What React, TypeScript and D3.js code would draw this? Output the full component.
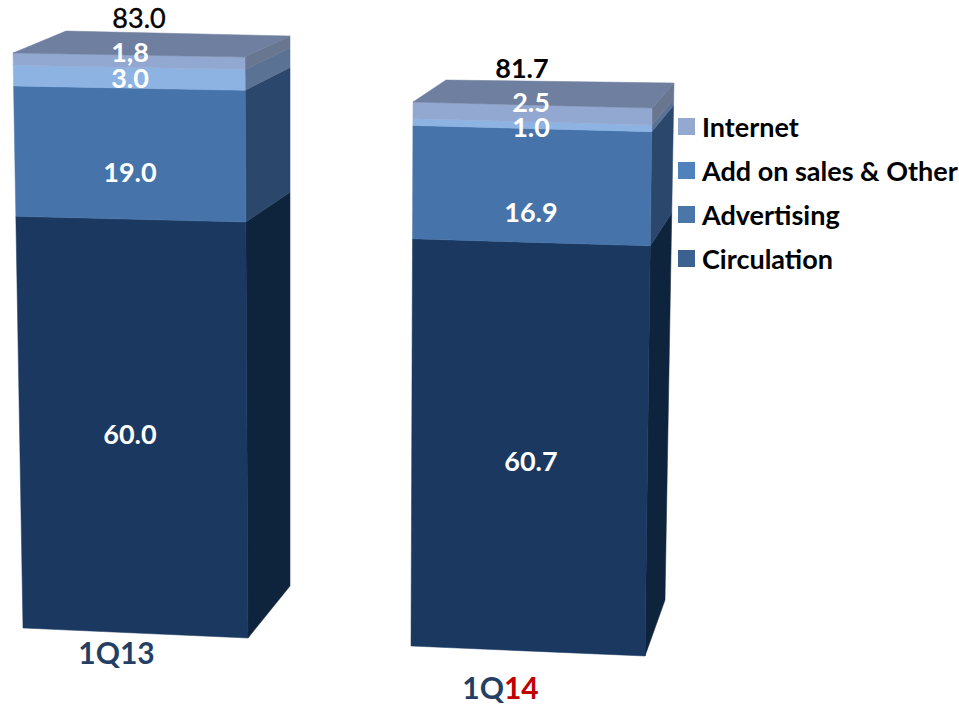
import React from "react";
import * as d3 from "d3";

// Reported revenue by quarter, stacked from the bottom up.
const quarters = ["1Q13", "1Q14"];
const circulation = [60.0, 60.7];
const advertising = [19.0, 16.9];
const addOnSales = [3.0, 1.0];
const internet = [1.8, 2.5];
const totalLabels = ["83.0", "81.7"];
const internetLabels = ["1,8", "2.5"];
const addOnLabels = ["3.0", "1.0"];
const advertisingLabels = ["19.0", "16.9"];
const circulationLabels = ["60.0", "60.7"];
const legendNames = ["Internet", "Add on sales & Other", "Advertising", "Circulation"];

type P = [number, number];

// Corners of each projected box: front and back edges, each as [base, top].
const boxes = [
  {
    frontLeft: [[23, 628], [13, 53]] as P[],
    frontRight: [[248, 638], [245, 57]] as P[],
    backRight: [[290, 586], [290, 36]] as P[],
    backLeft: [66, 31] as P,
  },
  {
    frontLeft: [[411, 646], [413, 102]] as P[],
    frontRight: [[645, 656], [652, 108]] as P[],
    backRight: [[665, 600], [674, 83]] as P[],
    backLeft: [446, 80] as P,
  },
];

const seriesStyle = [
  { key: "circulation", front: "#1a3860", side: "#0e243d", legend: "#3c6090" },
  { key: "advertising", front: "#4674aa", side: "#2b476b", legend: "#4a76a8" },
  { key: "addOn", front: "#8db3e3", side: "#5a7394", legend: "#4f81bd" },
  { key: "internet", front: "#93a8d1", side: "#69768f", legend: "#94a9d0" },
];

const topFace = "#6e7f9f";
const labelFont = "Lato, 'Open Sans', sans-serif";

// Vertical nudges that keep the value labels from colliding on the thin bands.
const segmentLabelNudge = [
  [8, 19, 1, -9],
  [15, 27, 2, -11],
];
const totalLabelAnchor = [
  { x: 139, y: 18 },
  { x: 522, y: 68 },
];
const segmentLabelX = [130, 531];
const categoryAnchor = [
  { x: 116.5, y: 653 },
  { x: 500.5, y: 688 },
];
const legendRows = [127, 171, 215, 259];

const rows = quarters.map((q, i) => ({
  quarter: q,
  circulation: circulation[i],
  advertising: advertising[i],
  addOn: addOnSales[i],
  internet: internet[i],
}));

const stackLayout = d3.stack<any>().keys(seriesStyle.map((s) => s.key));
const stacked = stackLayout(rows);
const segmentLabels = [circulationLabels, advertisingLabels, addOnLabels, internetLabels];

const polyPath = d3.line<P>().curve(d3.curveLinearClosed);

// Interpolates a stacked value along a projected box edge.
function edgeScale(edge: P[], total: number) {
  const sx = d3.scaleLinear().domain([0, total]).range([edge[0][0], edge[1][0]]);
  const sy = d3.scaleLinear().domain([0, total]).range([edge[0][1], edge[1][1]]);
  return (v: number): P => [sx(v), sy(v)];
}

export default function App() {
  return (
    <svg
      width={959}
      height={705}
      style={{ position: "absolute", left: 0, top: 0, background: "#fff" }}
    >
      {quarters.map((q, b) => {
        const box = boxes[b];
        const total = stacked[stacked.length - 1][b][1];
        const fl = edgeScale(box.frontLeft, total);
        const fr = edgeScale(box.frontRight, total);
        const br = edgeScale(box.backRight, total);
        const topPts: P[] = [fl(total), box.backLeft, br(total), fr(total)];
        return (
          <g key={q}>
            {stacked.map((layer, s) => {
              const [v0, v1] = layer[b];
              const style = seriesStyle[s];
              return (
                <g key={style.key}>
                  <path
                    d={polyPath([fr(v0), br(v0), br(v1), fr(v1)]) ?? ""}
                    fill={style.side}
                    stroke={style.side}
                    strokeWidth={0.5}
                  />
                  <path
                    d={polyPath([fl(v0), fr(v0), fr(v1), fl(v1)]) ?? ""}
                    fill={style.front}
                    stroke={style.front}
                    strokeWidth={0.5}
                  />
                </g>
              );
            })}
            <path d={polyPath(topPts) ?? ""} fill={topFace} stroke={topFace} strokeWidth={0.5} />
            {stacked.map((layer, s) => {
              const [v0, v1] = layer[b];
              const mid = (fl((v0 + v1) / 2)[1] + fr((v0 + v1) / 2)[1]) / 2;
              return (
                <text
                  key={seriesStyle[s].key}
                  x={segmentLabelX[b]}
                  y={mid + segmentLabelNudge[b][s]}
                  dy="0.36em"
                  textAnchor="middle"
                  fontFamily={labelFont}
                  fontWeight={700}
                  fontSize={27}
                  fill="#fff"
                >
                  {segmentLabels[s][b]}
                </text>
              );
            })}
            <text
              x={totalLabelAnchor[b].x}
              y={totalLabelAnchor[b].y}
              dy="0.36em"
              textAnchor="middle"
              fontFamily={labelFont}
              fontWeight={b === 0 ? 400 : 700}
              fontSize={27}
              fill="#000"
              stroke={b === 0 ? "#000" : "none"}
              strokeWidth={0.4}
            >
              {totalLabels[b]}
            </text>
            <text
              x={categoryAnchor[b].x}
              y={categoryAnchor[b].y}
              dy="0.36em"
              textAnchor="middle"
              fontFamily={labelFont}
              fontWeight={700}
              fontSize={30}
              fill="#243f63"
            >
              {q.slice(0, 2)}
              <tspan fill={b === 1 ? "#c00000" : "#243f63"}>{q.slice(2)}</tspan>
            </text>
          </g>
        );
      })}
      {legendNames.map((name, i) => {
        const style = seriesStyle[seriesStyle.length - 1 - i];
        return (
          <g key={name}>
            <rect x={678} y={legendRows[i] - 9} width={17} height={17} fill={style.legend} />
            <text
              x={702}
              y={legendRows[i]}
              dy="0.36em"
              fontFamily={labelFont}
              fontWeight={700}
              fontSize={27}
              fill="#000"
            >
              {name}
            </text>
          </g>
        );
      })}
    </svg>
  );
}
